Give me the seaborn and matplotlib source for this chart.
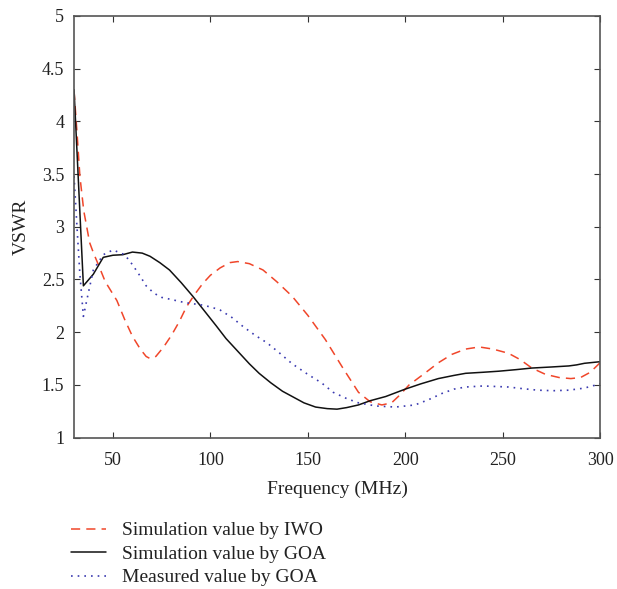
import numpy as np
import pandas as pd
import matplotlib
matplotlib.use("Agg")
import matplotlib.pyplot as plt
import seaborn as sns

# IWO simulation
iwo_f = [30, 31.5, 33, 35, 38, 40, 42.5, 46, 52, 56, 60, 64, 67, 69, 72, 76, 80, 84, 87.7, 92, 96, 100, 105, 110, 114, 120, 127, 134, 142, 150, 159, 168, 176, 182, 188, 193, 197, 202, 210, 217, 224, 231, 238, 245, 253, 259, 265, 272, 279, 285, 290, 295, 300]
iwo_v = [4.29, 3.9, 3.48, 3.15, 2.85, 2.75, 2.64, 2.48, 2.30, 2.12, 1.96, 1.84, 1.77, 1.75, 1.77, 1.86, 1.97, 2.10, 2.24, 2.36, 2.46, 2.54, 2.61, 2.66, 2.67, 2.65, 2.59, 2.48, 2.34, 2.16, 1.93, 1.66, 1.43, 1.34, 1.31, 1.33, 1.40, 1.50, 1.61, 1.71, 1.79, 1.84, 1.86, 1.84, 1.80, 1.74, 1.66, 1.60, 1.57, 1.56, 1.57, 1.62, 1.71]

# GOA simulation
goa_f = [30, 34.8, 39.9, 45, 50, 55, 60, 65, 69, 74, 79, 85, 91, 97, 103, 108, 114, 120, 125, 131, 137, 142, 148, 154, 160, 165, 170, 176, 182, 190, 200, 208, 217, 225, 231, 240, 248, 257, 265, 275, 284, 288, 292, 300]
goa_v = [4.3, 2.44, 2.55, 2.71, 2.73, 2.735, 2.76, 2.75, 2.72, 2.66, 2.59, 2.47, 2.34, 2.20, 2.06, 1.94, 1.82, 1.70, 1.61, 1.52, 1.44, 1.39, 1.33, 1.29, 1.275, 1.27, 1.285, 1.31, 1.35, 1.39, 1.46, 1.51, 1.56, 1.59, 1.61, 1.62, 1.63, 1.645, 1.66, 1.67, 1.68, 1.69, 1.705, 1.72]

# GOA measured
mea_f = [30, 31.5, 33, 34.8, 36.5, 39.9, 45, 50, 56, 60, 64, 67, 71, 75, 80, 87, 95, 100, 105, 111, 117, 123, 129, 135, 142, 150, 157, 163, 170, 176, 185, 195, 205, 212, 219, 225, 231, 240, 253, 260, 268, 276, 284, 292, 300]
mea_v = [3.48, 3.0, 2.55, 2.15, 2.3, 2.59, 2.735, 2.78, 2.735, 2.64, 2.53, 2.44, 2.37, 2.33, 2.31, 2.28, 2.26, 2.24, 2.21, 2.14, 2.05, 1.97, 1.90, 1.81, 1.70, 1.60, 1.52, 1.43, 1.37, 1.33, 1.30, 1.29, 1.31, 1.36, 1.42, 1.46, 1.48, 1.49, 1.48, 1.465, 1.45, 1.445, 1.45, 1.47, 1.51]

labels = ["Simulation value by IWO", "Simulation value by GOA", "Measured value by GOA"]

sns.set_style("ticks")
plt.rcParams['font.family'] = ['Liberation Serif', 'DejaVu Serif']
plt.rcParams['xtick.direction'] = 'in'
plt.rcParams['ytick.direction'] = 'in'

fig = plt.figure(figsize=(6.17, 5.89), dpi=100)
ax = fig.add_axes([0.12, 0.257, 0.8525, 0.716])

df1 = pd.DataFrame({"f": iwo_f, "v": iwo_v})
df2 = pd.DataFrame({"f": goa_f, "v": goa_v})
df3 = pd.DataFrame({"f": mea_f, "v": mea_v})

sns.lineplot(data=df1, x="f", y="v", ax=ax, color="#f0462a", lw=1.1, linestyle=(0, (6, 4)), label=labels[0], legend=False)
sns.lineplot(data=df2, x="f", y="v", ax=ax, color="#111111", lw=1.1, label=labels[1], legend=False)
sns.lineplot(data=df3, x="f", y="v", ax=ax, color="#3a3ab0", lw=1.2, linestyle=(0, (1, 3)), label=labels[2], legend=False)

ax.set_xlim(30, 300)
ax.set_ylim(1, 5)
ax.set_xticks([50, 100, 150, 200, 250, 300])
ax.set_yticks([1, 1.5, 2, 2.5, 3, 3.5, 4, 4.5, 5])
ax.set_yticklabels(["1", "1.5", "2", "2.5", "3", "3.5", "4", "4.5", "5"])
ax.tick_params(axis="x", pad=10)
ax.tick_params(axis="y", pad=7)
ax.tick_params(top=True, right=True, labelsize=13, color="#333333", length=4, width=0.8, labelcolor="#222222")
for s in ax.spines.values():
    s.set_color("#555555")
    s.set_linewidth(1.2)
ax.set_xlabel("Frequency (MHz)", fontsize=14, color="#222222", labelpad=9)
ax.set_ylabel("VSWR", fontsize=14, color="#222222", labelpad=9)

h, l = ax.get_legend_handles_labels()
fig.legend(h, l, loc="upper left", bbox_to_anchor=(0.115, 0.114), frameon=False,
           fontsize=14, handlelength=1.8, labelspacing=0.3, handletextpad=0.85,
           borderaxespad=0, borderpad=0, labelcolor="#222222")

fig.savefig("out.png", dpi=100)
